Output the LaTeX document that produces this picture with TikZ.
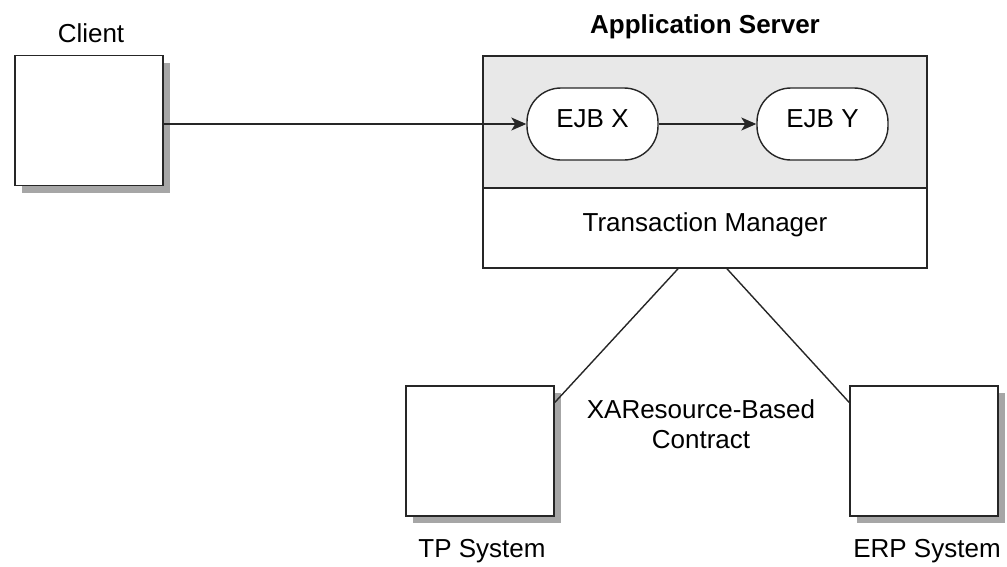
\documentclass[tikz,border=0pt]{standalone}
\usepackage{fontspec}
\setmainfont{Liberation Sans}
\usetikzlibrary{arrows.meta,shadows}
\begin{document}
\begin{tikzpicture}[x=1pt, y=-1pt,
    font=\fontsize{26}{30}\selectfont,
    sysbox/.style={draw=black!85, fill=white, line width=1.6pt, inner sep=0pt,
      minimum width=148pt, minimum height=130pt,
      drop shadow={shadow xshift=7pt, shadow yshift=-7pt, fill=black!35, opacity=1}},
    layer/.style={draw=black!85, line width=1.6pt, inner sep=0pt, minimum width=444pt,
      text height=0.72em, text depth=0pt},
    bean/.style={draw=black!85, fill=white, line width=1.4pt, rounded corners=34pt,
      minimum width=131pt, minimum height=72pt, inner sep=0pt,
      text height=0.72em, text depth=0pt},
    flow/.style={line width=1.4pt, draw=black!85, -{Stealth[length=15pt, width=13pt, inset=4pt]}},
    link/.style={line width=1.4pt, draw=black!85}]
  \useasboundingbox (0,0) rectangle (1007,566);
  % Client side
  \node[sysbox] (client) at (89,120.5) {};
  \node[anchor=base] (clientlbl) at (91,42) {Client};
  % Application server with its two layers
  \node[layer, fill=black!9, minimum height=132pt] (asrv) at (705,122) {};
  \node[layer, fill=white, minimum height=80pt] (tm) at (705,228) {Transaction Manager};
  \node[anchor=base] (asrvlbl) at (705,33) {\bfseries Application Server};
  \node[bean] (ejbx) at (592.5,124) {EJB X};
  \node[bean] (ejby) at (822.5,124) {EJB Y};
  % Resource systems
  \node[sysbox] (tp)  at (480,451) {};
  \node[sysbox] (erp) at (924,451) {};
  \node[anchor=base] (tplbl)  at (482,557) {TP System};
  \node[anchor=base] (erplbl) at (927,557) {ERP System};
  \node[align=center, anchor=base] (xalbl) at (701,448) {XAResource-Based\\Contract};
  % Calls
  \draw[flow] (client.east |- ejbx.west) -- (ejbx.west);
  \draw[flow] (ejbx) -- (ejby);
  % Contracts
  \draw[link] ([xshift=-27pt]tm.south) -- (tp.33);
  \draw[link] ([xshift=22pt]tm.south) -- (erp.147);
\end{tikzpicture}
\end{document}
